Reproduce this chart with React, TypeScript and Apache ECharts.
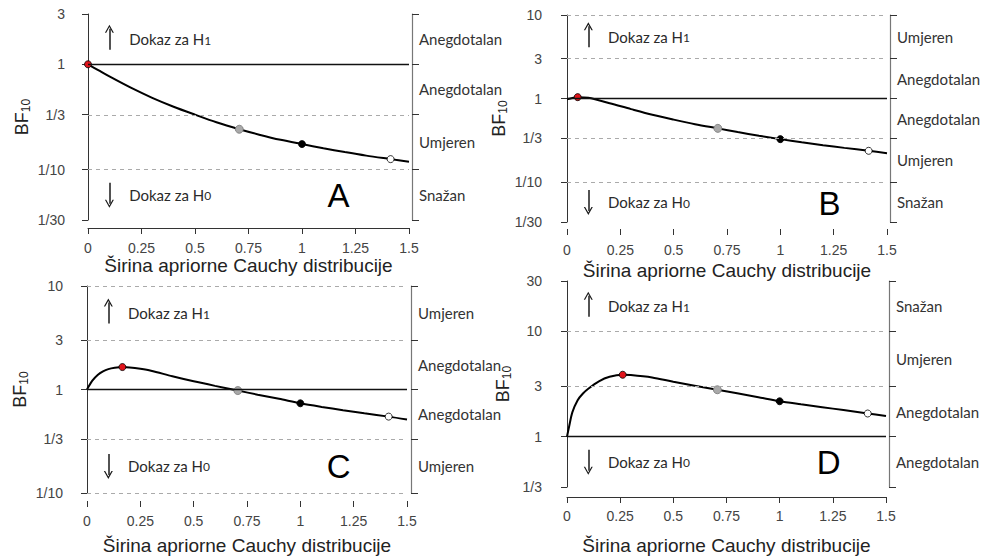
import React, { useEffect, useRef } from "react";
import * as echarts from "echarts";

// ---------- data ----------
const xName = "Širina apriorne Cauchy distribucije";
const yLetters = ["A", "B", "C", "D"];

const xA = [0, 0.05, 0.1, 0.2, 0.3, 0.4, 0.5, 0.6, 0.707, 0.8, 0.9, 1.0, 1.1, 1.2, 1.3, 1.414, 1.5];
const bfA = [1, 0.875, 0.767, 0.6, 0.481, 0.396, 0.333, 0.282, 0.242, 0.215, 0.192, 0.175, 0.16, 0.147, 0.136, 0.126, 0.119];

const xB = [0, 0.05, 0.1, 0.2, 0.3, 0.4, 0.5, 0.6, 0.707, 0.8, 0.9, 1.0, 1.1, 1.2, 1.3, 1.414, 1.5];
const bfB = [0.98, 1.04, 1.02, 0.88, 0.748, 0.64, 0.56, 0.494, 0.44, 0.398, 0.359, 0.327, 0.3, 0.277, 0.257, 0.237, 0.222];

const xC = [0, 0.025, 0.05, 0.075, 0.1, 0.13, 0.166, 0.2, 0.25, 0.3, 0.4, 0.5, 0.6, 0.707, 0.8, 0.9, 1.0, 1.1, 1.2, 1.3, 1.414, 1.5];
const bfC = [1, 1.216, 1.38, 1.496, 1.574, 1.622, 1.648, 1.633, 1.585, 1.52, 1.343, 1.2, 1.084, 0.977, 0.891, 0.813, 0.736, 0.679, 0.631, 0.589, 0.547, 0.513];

const xD = [0, 0.005, 0.01, 0.025, 0.05, 0.075, 0.1, 0.15, 0.2, 0.262, 0.3, 0.4, 0.5, 0.6, 0.707, 0.8, 0.9, 1.0, 1.1, 1.2, 1.3, 1.414, 1.5];
const bfD = [1, 1.12, 1.25, 1.7, 2.22, 2.57, 2.85, 3.35, 3.7, 3.87, 3.85, 3.65, 3.32, 3.05, 2.79, 2.58, 2.37, 2.17, 2.03, 1.905, 1.79, 1.66, 1.57];

// x positions of the highlighted points: maximum, 0.707, 1, 1.414
const dotsA = [0, 0.707, 1, 1.414];
const dotsB = [0.05, 0.707, 1, 1.414];
const dotsC = [0.166, 0.707, 1, 1.414];
const dotsD = [0.262, 0.707, 1, 1.414];

const boundsA = [3, 1, 1 / 3, 1 / 10, 1 / 30];
const boundsB = [10, 3, 1, 1 / 3, 1 / 10, 1 / 30];
const boundsC = [10, 3, 1, 1 / 3, 1 / 10];
const boundsD = [30, 10, 3, 1, 1 / 3];

const boundLabelsA = ["3", "1", "1/3", "1/10", "1/30"];
const boundLabelsB = ["10", "3", "1", "1/3", "1/10", "1/30"];
const boundLabelsC = ["10", "3", "1", "1/3", "1/10"];
const boundLabelsD = ["30", "10", "3", "1", "1/3"];

const bandsA = ["Anegdotalan", "Anegdotalan", "Umjeren", "Snažan"];
const bandsB = ["Umjeren", "Anegdotalan", "Anegdotalan", "Umjeren", "Snažan"];
const bandsC = ["Umjeren", "Anegdotalan", "Anegdotalan", "Umjeren"];
const bandsD = ["Snažan", "Umjeren", "Anegdotalan", "Anegdotalan"];

const panelsData = [
  { x: xA, bf: bfA, dots: dotsA, bounds: boundsA, boundLabels: boundLabelsA, bands: bandsA },
  { x: xB, bf: bfB, dots: dotsB, bounds: boundsB, boundLabels: boundLabelsB, bands: bandsB },
  { x: xC, bf: bfC, dots: dotsC, bounds: boundsC, boundLabels: boundLabelsC, bands: bandsC },
  { x: xD, bf: bfD, dots: dotsD, bounds: boundsD, boundLabels: boundLabelsD, bands: bandsD },
];

// ---------- layout ----------
const layouts = [
  { left: 88, top: 14, width: 321, height: 206, yOffL: 12, yOffR: 3, xOff: 8, xLine: true, xMargin: 13, xNameGap: 28, yNameGap: 44, letterX: 1.17 },
  { left: 567, top: 15, width: 320, height: 207, yOffL: 14, yOffR: 3, xOff: 7, xLine: false, xMargin: 14, xNameGap: 32, yNameGap: 44, letterX: 1.23 },
  { left: 87, top: 286, width: 320, height: 207, yOffL: 13, yOffR: 4, xOff: 8, xLine: false, xMargin: 13, xNameGap: 35, yNameGap: 44, letterX: 1.18 },
  { left: 567, top: 281, width: 319, height: 206, yOffL: 14, yOffR: 3, xOff: 10, xLine: true, xMargin: 12, xNameGap: 39, yNameGap: 40, letterX: 1.23 },
];

const dotColors = ["#e0141b", "#a9a9a9", "#000000", "#ffffff"];
const dotSizes = [7, 8, 7, 7];
const SANS = "'Liberation Sans', Arial, sans-serif";
const HUM = "Lato, 'Open Sans', sans-serif";
const CHEVRON = "path://M0,11 L6,0 L12,11 L10.2,11 L6,3.4 L1.8,11 Z";
const L = (v: number) => Math.log10(v);

function nearestLabel(val: number, vals: number[], labels: string[]) {
  let best = 0;
  let bd = Infinity;
  vals.forEach((v, i) => {
    const d = Math.abs(v - val);
    if (d < bd) {
      bd = d;
      best = i;
    }
  });
  return labels[best];
}

function buildOption() {
  const grid: any[] = [];
  const xAxis: any[] = [];
  const yAxis: any[] = [];
  const series: any[] = [];

  panelsData.forEach((p, i) => {
    const lay = layouts[i];
    const logB = p.bounds.map(L);
    const mids = logB.slice(0, -1).map((v, k) => (v + logB[k + 1]) / 2);
    const yMax = logB[0];
    const yMin = logB[logB.length - 1];
    const perPx = (yMax - yMin) / lay.height; // decades per pixel

    grid.push({ left: lay.left, top: lay.top, width: lay.width, height: lay.height });

    xAxis.push({
      gridIndex: i,
      type: "value",
      min: 0,
      max: 1.5,
      interval: 0.25,
      offset: lay.xOff,
      axisLine: { show: lay.xLine, onZero: false, lineStyle: { color: "#333", width: 1 } },
      axisTick: { show: true, length: 6, lineStyle: { color: "#333" } },
      axisLabel: { margin: lay.xMargin, fontSize: 14, color: "#444", fontFamily: SANS },
      splitLine: { show: false },
      name: xName,
      nameLocation: "middle",
      nameGap: lay.xNameGap,
      nameTextStyle: { fontSize: 19, color: "#222", fontFamily: SANS },
    });

    yAxis.push({
      gridIndex: i,
      type: "value",
      position: "left",
      min: yMin,
      max: yMax,
      offset: lay.yOffL,
      axisLine: { show: true, lineStyle: { color: "#333", width: 1 } },
      axisTick: { show: true, length: 6, customValues: logB, lineStyle: { color: "#333" } },
      axisLabel: {
        customValues: logB,
        margin: 11,
        fontSize: 14,
        color: "#444",
        fontFamily: SANS,
        formatter: (v: number) => nearestLabel(v, logB, p.boundLabels),
      },
      splitLine: { show: false },
      name: "BF{s|10}",
      nameLocation: "middle",
      nameRotate: 90,
      nameGap: lay.yNameGap,
      nameTextStyle: {
        fontSize: 18,
        color: "#222",
        fontFamily: SANS,
        rich: { s: { fontSize: 12, color: "#222", fontFamily: SANS, padding: [8, 0, 0, 0] } },
      },
    });

    yAxis.push({
      gridIndex: i,
      type: "value",
      position: "right",
      min: yMin,
      max: yMax,
      offset: lay.yOffR,
      axisLine: { show: true, lineStyle: { color: "#777", width: 1.2 } },
      axisTick: { show: true, length: 7, customValues: logB, lineStyle: { color: "#333" } },
      axisLabel: {
        customValues: mids,
        margin: 7,
        fontSize: 15,
        color: "#333",
        fontFamily: HUM,
        formatter: (v: number) => nearestLabel(v, mids, p.bands),
      },
      splitLine: { show: false },
    });

    const yIdx = 2 * i;

    // reference lines (dashed boundaries and solid BF = 1) + annotations
    const upY = mids[0];
    const downY = mids[mids.length - 1];
    const richDigit = { s: { fontSize: 12, color: "#2a2a2a", fontFamily: HUM, padding: [2, 0, 0, 0] } };
    const arrowLine = { type: "solid", color: "#1a1a1a", width: 1.5 };
    const upMid = upY + 1.5 * perPx;
    const downMid = downY;
    const half = 9 * perPx;
    const arrowItems = [
      [
        { coord: [0.1, upMid - half - 3 * perPx], symbol: "none", lineStyle: arrowLine },
        { coord: [0.1, upMid + half], symbol: CHEVRON, symbolSize: [9, 8] },
      ],
      [
        { coord: [0.1, downMid + half + 3 * perPx], symbol: "none", lineStyle: arrowLine },
        { coord: [0.1, downMid - half], symbol: CHEVRON, symbolSize: [9, 8] },
      ],
    ];

    series.push({
      type: "scatter",
      xAxisIndex: i,
      yAxisIndex: yIdx,
      z: 1,
      silent: true,
      symbolSize: 1,
      itemStyle: { color: "rgba(0,0,0,0)", opacity: 1 },
      data: [
        { value: [0.19, upY], label: { show: true, position: "right", distance: 0, formatter: "Dokaz za H{s|1}", fontSize: 15, color: "#2a2a2a", fontFamily: HUM, rich: richDigit } },
        { value: [0.19, downY], label: { show: true, position: "right", distance: 0, formatter: "Dokaz za H{s|0}", fontSize: 15, color: "#2a2a2a", fontFamily: HUM, rich: richDigit } },
        { value: [lay.letterX, downY], label: { show: true, position: "inside", formatter: yLetters[i], fontSize: 33, color: "#000", fontFamily: SANS, offset: [0, 1] } },
      ],
      markLine: {
        silent: true,
        symbol: ["none", "none"],
        label: { show: false },
        data: [
          ...p.bounds.map((b) => ({
            yAxis: L(b),
            lineStyle:
              b === 1
                ? { type: "solid", color: "#111", width: 1.3 }
                : { type: [4, 4], color: "#aaa", width: 1 },
          })),
          ...arrowItems,
        ],
      },
    });

    // curve
    series.push({
      type: "line",
      xAxisIndex: i,
      yAxisIndex: yIdx,
      z: 3,
      silent: true,
      showSymbol: false,
      smooth: 0.3,
      lineStyle: { color: "#000", width: 2 },
      data: p.x.map((x, j) => [x, L(p.bf[j])]),
    });

    // highlighted points
    series.push({
      type: "scatter",
      xAxisIndex: i,
      yAxisIndex: yIdx,
      z: 4,
      silent: true,
      data: p.dots.map((dx, k) => {
        const j = p.x.indexOf(dx);
        return {
          value: [dx, L(p.bf[j])],
          symbolSize: dotSizes[k],
          itemStyle: { color: dotColors[k], opacity: 1, borderColor: k === 1 ? "#777" : "#000", borderWidth: 0.8 },
        };
      }),
    });
  });

  return {
    animation: false,
    backgroundColor: "#ffffff",
    grid,
    xAxis,
    yAxis,
    series,
  };
}

export default function App() {
  const ref = useRef<HTMLDivElement>(null);
  useEffect(() => {
    if (!ref.current) return;
    const chart = echarts.init(ref.current, undefined, { renderer: "svg" });
    chart.setOption(buildOption() as any);
    return () => chart.dispose();
  }, []);
  return (
    <div
      ref={ref}
      style={{ position: "fixed", left: 0, top: 0, width: 984, height: 557, background: "#fff" }}
    />
  );
}
